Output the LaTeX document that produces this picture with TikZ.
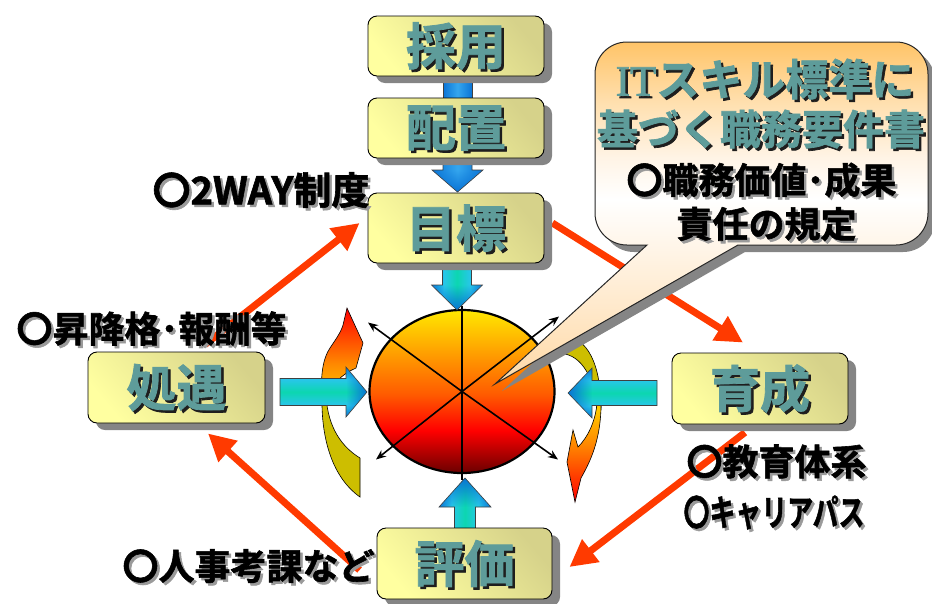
\documentclass[tikz,border=0pt]{standalone}
\usepackage{fontspec}
\setmainfont{Noto Sans CJK JP}[BoldFont={Noto Sans CJK JP Bold}]
\newfontfamily\heavyjp{Noto Sans CJK JP}[UprightFont={* Bold},BoldFont={* Bold},FakeBold=1.6]
\newfontfamily\latinserif{Liberation Serif}[FakeBold=1.6]
\usetikzlibrary{shapes.geometric,arrows.meta,shadows,fadings}

% palette
\definecolor{boxlight}{HTML}{FFFFA0}
\definecolor{boxdark}{HTML}{D6D28A}
\definecolor{boxteal}{HTML}{5E9C9A}
\definecolor{inkshadow}{HTML}{1E1E1E}
\definecolor{labelshadow}{HTML}{9A9A9A}
\definecolor{shadowgray}{HTML}{858585}
\definecolor{redline}{HTML}{FF3A00}
\definecolor{ablue}{HTML}{0A74D6}
\definecolor{acyan}{HTML}{28C6EA}
\definecolor{ateal}{HTML}{0CD6B0}
\definecolor{skyblue}{HTML}{34A6EE}
\definecolor{olive}{HTML}{CDBE00}
\definecolor{flamered}{HTML}{FF0000}
\definecolor{flameorange}{HTML}{FF8A00}
\definecolor{flamegold}{HTML}{FFD200}
\definecolor{sun1}{HTML}{FFE800}
\definecolor{sun2}{HTML}{FFA000}
\definecolor{sun3}{HTML}{FF5A00}
\definecolor{sun4}{HTML}{FF0000}
\definecolor{sun5}{HTML}{6A0000}
\definecolor{orangetop}{HTML}{FFC468}
\definecolor{apricot}{HTML}{FFE0B0}
\definecolor{cream}{HTML}{FFF4E6}
\definecolor{peach}{HTML}{FFD9A6}

% shadings
\pgfdeclareverticalshading{oceanband}{100bp}{color(0bp)=(ablue); color(25bp)=(ablue); color(37bp)=(acyan); color(50bp)=(ateal); color(63bp)=(acyan); color(75bp)=(ablue); color(100bp)=(ablue)}
\pgfdeclareverticalshading{skyband}{100bp}{color(0bp)=(ablue); color(25bp)=(ablue); color(50bp)=(skyblue); color(75bp)=(ablue); color(100bp)=(ablue)}
\pgfdeclareverticalshading{sunball}{100bp}{color(0bp)=(sun5); color(25bp)=(sun5); color(38bp)=(sun4); color(49bp)=(sun3); color(62bp)=(sun2); color(75bp)=(sun1); color(100bp)=(sun1)}
\pgfdeclareverticalshading{calloutfill}{100bp}{color(0bp)=(peach); color(25bp)=(peach); color(52bp)=(white); color(58bp)=(cream); color(66bp)=(apricot); color(75bp)=(orangetop); color(100bp)=(orangetop)}
\pgfdeclareverticalshading{flameup}{100bp}{color(0bp)=(flamegold); color(25bp)=(flamegold); color(45bp)=(flameorange); color(75bp)=(flamered); color(100bp)=(flamered)}
\pgfdeclareverticalshading{flamedown}{100bp}{color(0bp)=(flamered); color(25bp)=(flamered); color(55bp)=(flameorange); color(75bp)=(flamegold); color(100bp)=(flamegold)}
\tikzfading[name=tipglow, left color=transparent!100, right color=transparent!0]

\pgfdeclarelayer{back}
\pgfsetlayers{back,main}

\tikzset{
  box/.style={draw=black, line width=0.9pt, rounded corners=9pt,
    top color=boxdark, bottom color=boxlight, shading angle=-50,
    minimum width=176pt, inner sep=0pt,
    drop shadow={shadow xshift=8pt, shadow yshift=-7pt, fill=shadowgray, opacity=1}},
  boxword/.style={text=boxteal, inner sep=0pt, font=\heavyjp\fontsize{50}{50}\selectfont},
  boxwordshadow/.style={boxword, text=inkshadow},
  calloutword/.style={text=boxteal, inner sep=0pt, font=\heavyjp\fontsize{41}{41}\selectfont},
  calloutwordshadow/.style={calloutword, text=inkshadow},
  note/.style={text=black, inner sep=0pt, font=\heavyjp\fontsize{36}{36}\selectfont},
  noteshadow/.style={note, text=labelshadow},
  redarrow/.style={draw=redline, line width=7pt, -{Triangle[length=27pt,width=27pt]}},
  spoke/.style={line width=1.6pt, -{Stealth[length=10pt,width=8pt]}},
  spokeline/.style={line width=1.8pt},
  arrowrim/.style={draw=black!75, line width=0.6pt},
  curveline/.style={draw=black, line width=0.6pt},
}

% text with an offset copy underneath
\newcommand\shadowtext[5][]{%
  \node[#2shadow, #1] (#3-shade) at ([shift={(2.5,2.5)}]#4) {#5};
  \node[#2, #1] (#3) at (#4) {#5};}

% block arrow: shaded body, glowing tip, outline
\newcommand\blockarrow[4]{%
  \shade[#1] #3;
  \fill[ablue, path fading=tipglow, fading angle=#2] #4;
  \draw[arrowrim] #3;}

\begin{document}
\begin{tikzpicture}[x=1pt,y=-1pt]
\useasboundingbox (0,0) rectangle (932,603);

% rotating band on the left (back part, then flame head)
\draw[curveline, fill=olive] (322,396) .. controls (321,440) and (333,478) .. (360,497)
  -- (360,458) .. controls (342,447) and (328,428) .. (326,396) -- cycle;
\draw[curveline, shading=flameup] (322,402) .. controls (320,376) and (323,358) .. (330,348)
  .. controls (336,339) and (341,332) .. (343,325) -- (347,308) -- (363,343) -- (356,368)
  .. controls (342,374) and (330,385) .. (326,402) -- cycle;

% rotating band on the right
\draw[curveline, fill=olive] (562,336) .. controls (588,336) and (601,365) .. (601,410)
  -- (597,410) .. controls (596,385) and (585,358) .. (565,354) -- cycle;
\draw[curveline, shading=flamedown] (597,404) -- (601,404) .. controls (601,440) and (590,462) .. (581,478)
  -- (575,502) -- (567,462) -- (573,430) -- (578,447)
  .. controls (588,437) and (595,422) .. (597,404) -- cycle;

% connectors of the top column
\shade[shading=skyband, shading angle=90, draw=black!75, line width=0.6pt] (443,70) rectangle (472,104);
\blockarrow{shading=skyband,shading angle=90}{-90}
  {(443,150) -- (443,170) -- (432,170) -- (457.5,192) -- (483,170) -- (472,170) -- (472,150) -- cycle}
  {(432,170) -- (457.5,192) -- (483,170) -- cycle}

% central disc
\node[ellipse, minimum width=185pt, minimum height=163pt, inner sep=0pt,
      draw=black, line width=2.2pt, shading=sunball] (core) at (462,391.5) {};
\draw[spokeline] ([yshift=3pt]core.north) -- ([yshift=-6pt]core.south);
\draw[spoke] (core.center) -- ++(-94,-69);
\draw[spoke] (core.center) -- ++(97,-75);
\draw[spoke] (core.center) -- ++(-86,68);
\draw[spoke] (core.center) -- ++(96,68);

% block arrows into the disc
\blockarrow{shading=oceanband,shading angle=90}{-90}
  {(442.5,255) -- (442.5,285) -- (431.5,285) -- (457,310) -- (482.5,285) -- (471.5,285) -- (471.5,255) -- cycle}
  {(431.5,285) -- (457,310) -- (482.5,285) -- cycle}
\blockarrow{shading=oceanband}{0}
  {(280,378.5) -- (346,378.5) -- (346,367) -- (367,392) -- (346,417) -- (346,405.5) -- (280,405.5) -- cycle}
  {(346,367) -- (367,392) -- (346,417) -- cycle}
\blockarrow{shading=oceanband}{180}
  {(657,380.5) -- (592,380.5) -- (592,368) -- (568,393) -- (592,418) -- (592,405.5) -- (657,405.5) -- cycle}
  {(592,368) -- (568,393) -- (592,418) -- cycle}
\blockarrow{shading=oceanband,shading angle=90}{90}
  {(454.5,535) -- (454.5,507) -- (439,507) -- (465,478) -- (491,507) -- (475.5,507) -- (475.5,535) -- cycle}
  {(439,507) -- (465,478) -- (491,507) -- cycle}

% process boxes
\node[box, minimum height=60pt] (saiyo)   at (456,46)      {};
\node[box, minimum height=60pt] (haichi)  at (456,128)     {};
\node[box, minimum height=70pt] (mokuhyo) at (456,228)     {};
\node[box, minimum height=71pt, minimum width=177pt] (shogu) at (176.5,387.5) {};
\node[box, minimum height=71pt] (ikusei)  at (760,388.5)   {};
\node[box, minimum height=71pt, minimum width=175pt] (hyoka) at (464.5,563.5) {};

\shadowtext{boxword}{saiyo-t}{saiyo}{採用}
\shadowtext{boxword}{haichi-t}{haichi}{配置}
\shadowtext{boxword}{mokuhyo-t}{mokuhyo}{目標}
\shadowtext{boxword}{shogu-t}{shogu}{処遇}
\shadowtext{boxword}{ikusei-t}{ikusei}{育成}
\shadowtext{boxword}{hyoka-t}{hyoka}{評価}

% cycle between the boxes
\begin{pgfonlayer}{back}
\draw[redarrow] ([shift={(28.5,-7)}]shogu.north) -- ([shift={(-8,-5)}]mokuhyo.west);
\draw[redarrow] ([shift={(8,-5)}]mokuhyo.east) -- ([shift={(-17,-10)}]ikusei.north);
\draw[redarrow] ([shift={(-15,8)}]ikusei.south) -- ([shift={(17,3.5)}]hyoka.east);
\draw[redarrow] ([shift={(-17,6.5)}]hyoka.west) -- ([shift={(31.5,10)}]shogu.south);
\end{pgfonlayer}

% notes
\shadowtext[font=\heavyjp\fontsize{38}{38}\selectfont]{note}{twoway}{261,190}{〇2WAY制度}
\shadowtext{note}{promo}{151.5,328.5}{〇昇降格･報酬等}
\shadowtext{note}{edu}{776.5,461.5}{〇教育体系}
\shadowtext{note}{career}{774,512.5}{\scalebox{0.72}[1]{〇キャリアパス}}
\shadowtext{note}{appraisal}{248.5,566}{〇人事考課など}

% speech bubble
\path[shade, shading=calloutfill, draw=black!85, line width=1pt,
      drop shadow={shadow xshift=7pt, shadow yshift=-7pt, fill=shadowgray, opacity=1}]
  (647,245) -- (495,384) -- (738,245) -- (896,245)
  .. controls (913.7,245) and (928,230.7) .. (928,213) -- (928,74)
  .. controls (928,56.3) and (913.7,42) .. (896,42) -- (627,42)
  .. controls (609.3,42) and (595,56.3) .. (595,74) -- (595,213)
  .. controls (595,230.7) and (609.3,245) .. (627,245) -- cycle;

\shadowtext[font=\heavyjp\fontsize{43}{43}\selectfont]{calloutword}{itss1}{765,79}{{\latinserif IT}スキル標準に}
\shadowtext{calloutword}{itss2}{761,129}{基づく職務要件書}
\shadowtext{note}{duty1}{761.5,180}{〇職務価値･成果}
\shadowtext{note}{duty2}{766.5,224}{責任の規定}
\end{tikzpicture}
\end{document}
